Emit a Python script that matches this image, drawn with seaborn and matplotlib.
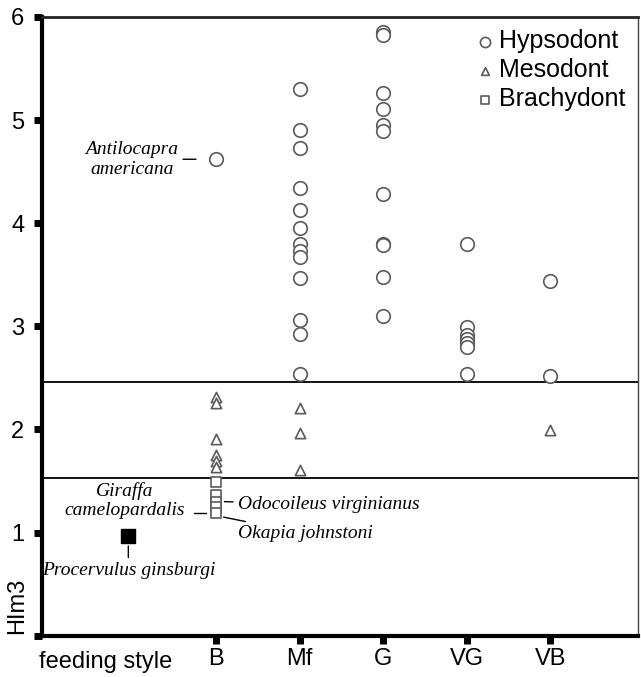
import pandas as pd
import matplotlib
matplotlib.use("Agg")
import matplotlib.pyplot as plt
import seaborn as sns

# categorias del eje x
feeding_styles = ["B", "Mf", "G", "VG", "VB"]

# valores HIm3, por tipo de corona
hypsodont = {
    "B": [4.62],
    "Mf": [5.30, 4.90, 4.73, 4.34, 4.13, 3.95, 3.80, 3.73, 3.67, 3.47, 3.06, 2.93, 2.54],
    "G": [5.85, 5.82, 5.26, 5.11, 4.95, 4.89, 4.28, 3.80, 3.79, 3.48, 3.10],
    "VG": [3.80, 2.99, 2.92, 2.88, 2.84, 2.80, 2.54],
    "VB": [3.44, 2.52],
}
mesodont = {
    "B": [2.31, 2.26, 1.91, 1.75, 1.69, 1.64],
    "Mf": [2.21, 1.97, 1.61],
    "VB": [1.99],
}
brachydont = {
    "B": [1.49, 1.36, 1.30, 1.25, 1.19],
}

# fosil
procervulus_x = -0.05
procervulus_y = 0.97

# limites de tipo de corona
limits = [2.46, 1.53]

rows = []
for tipo, datos in [("Hypsodont", hypsodont), ("Mesodont", mesodont), ("Brachydont", brachydont)]:
    for fs, vals in datos.items():
        for v in vals:
            rows.append({"pos": feeding_styles.index(fs) + 1, "HIm3": v, "tipo": tipo})
df = pd.DataFrame(rows)

sns.set_style("white")
plt.rcParams["font.family"] = ["Liberation Sans", "DejaVu Sans"]
plt.rcParams["text.color"] = "black"
plt.rcParams["axes.labelcolor"] = "black"
plt.rcParams["xtick.color"] = "black"
plt.rcParams["ytick.color"] = "black"

fig = plt.figure(figsize=(6.41, 6.77), dpi=100)
ax = fig.add_axes([0.066, 0.061, 0.929, 0.914])

marcadores = {"Hypsodont": "o", "Mesodont": "^", "Brachydont": "s"}
tamanos = {"Hypsodont": 95, "Mesodont": 55, "Brachydont": 48}
for tipo in ["Hypsodont", "Mesodont", "Brachydont"]:
    sub = df[df["tipo"] == tipo]
    sns.scatterplot(data=sub, x="pos", y="HIm3", marker=marcadores[tipo], s=tamanos[tipo],
                    facecolor="white", edgecolor="#5a5a5a", linewidth=1.2, label=tipo, ax=ax, zorder=3)

ax.scatter([procervulus_x], [procervulus_y], marker="s", s=90, color="black", zorder=3)

for lim in limits:
    ax.axhline(lim, color="black", lw=1.3, zorder=2)

ax.set_xlim(-1.08, 6.05)
ax.set_ylim(0, 6)
ax.set_yticks(range(0, 7))
ax.set_yticklabels(["", "1", "2", "3", "4", "5", "6"])
ax.set_xticks(range(1, 6))
ax.set_xticklabels(feeding_styles)
ax.tick_params(axis="both", direction="out", length=6, width=5, color="black", labelcolor="black",
               labelsize=17, bottom=True, left=True)
ax.tick_params(axis="x", pad=3)
ax.tick_params(axis="y", pad=7)

for lado in ["left", "bottom"]:
    ax.spines[lado].set_linewidth(3)
    ax.spines[lado].set_color("black")
ax.spines["top"].set_linewidth(2)
ax.spines["top"].set_color("#222222")
ax.spines["right"].set_linewidth(1)
ax.spines["right"].set_color("#444444")

ax.set_xlabel("feeding style", fontsize=17, color="black")
ax.xaxis.set_label_coords(0.106, -0.025)
ax.xaxis.label.set_verticalalignment("top")
ax.set_ylabel("HIm3", fontsize=17, va="center", color="black")
ax.yaxis.set_label_coords(-0.042, 0.048)

serif = dict(family="Liberation Serif", style="italic", fontsize=14, color="black")
linea = dict(arrowstyle="-", color="black", lw=1, shrinkA=1, shrinkB=0)

# anotaciones de especies
ax.annotate("Antilocapra\namericana", xy=(0.76, hypsodont["B"][0]), xytext=(0.55, hypsodont["B"][0]),
            ha="right", va="center", multialignment="center", arrowprops=linea, **serif)
ax.annotate("Giraffa\ncamelopardalis", xy=(0.88, brachydont["B"][4]), xytext=(0.63, brachydont["B"][4] + 0.12),
            ha="right", va="center", multialignment="center", **serif)
ax.plot([0.74, 0.88], [brachydont["B"][4], brachydont["B"][4]], color="black", lw=1)
ax.annotate("Odocoileus virginianus", xy=(1.1, brachydont["B"][2]), xytext=(1.26, brachydont["B"][2] - 0.03),
            ha="left", va="center", arrowprops=linea, **serif)
ax.annotate("Okapia johnstoni", xy=(1.09, brachydont["B"][4] - 0.04), xytext=(1.26, brachydont["B"][4] - 0.2),
            ha="left", va="center", arrowprops=linea, **serif)
ax.annotate("Procervulus ginsburgi", xy=(procervulus_x, procervulus_y - 0.1),
            xytext=(procervulus_x, procervulus_y - 0.34), ha="center", va="center", arrowprops=linea, **serif)

leg = ax.legend(loc="upper right", frameon=False, fontsize=18, handletextpad=0.05, labelspacing=0.2,
                borderaxespad=0.1, handlelength=1.0, markerscale=0.75)
for t in leg.get_texts():
    t.set_color("black")

plt.savefig("out.png", dpi=100)
